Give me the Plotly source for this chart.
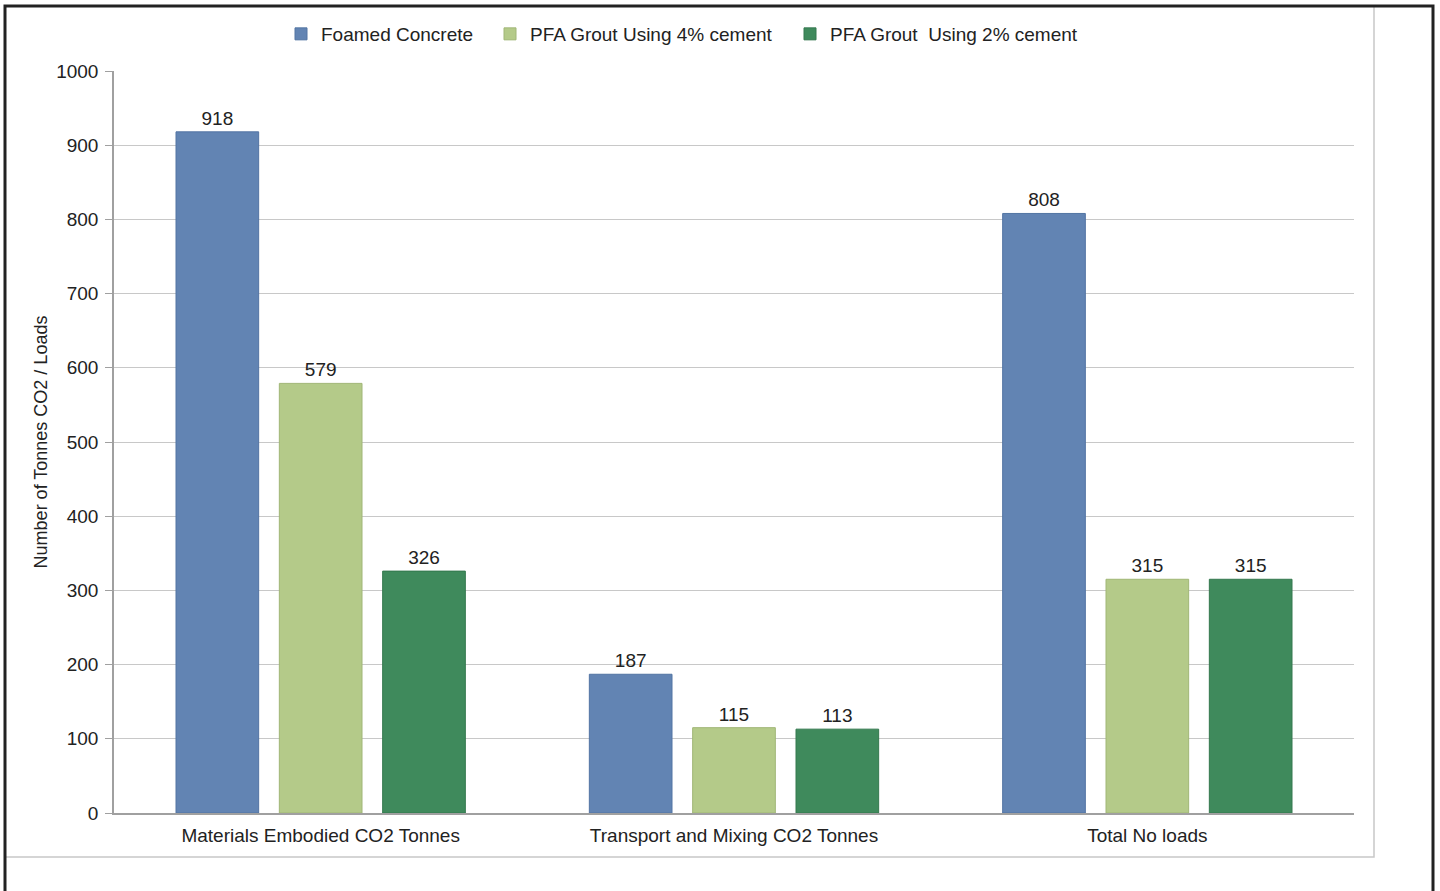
import plotly.graph_objects as go

categories = ["Materials Embodied CO2 Tonnes", "Transport and Mixing CO2 Tonnes", "Total No loads"]
series_names = ["Foamed Concrete", "PFA Grout Using 4% cement", "PFA Grout  Using 2% cement"]
foamed = [918, 187, 808]
pfa4 = [579, 115, 315]
pfa2 = [326, 113, 315]
y_ticks = [0, 100, 200, 300, 400, 500, 600, 700, 800, 900, 1000]

colors = ["#6284b3", "#b4ca89", "#3f8a5c"]
edges = ["#5274a3", "#a0b676", "#34784e"]
legend_text_x = [321, 530, 830]

W, H = 1440, 891
L, R, T, B = 114, 1354, 71, 813


def px(x):
    return (x - L) / (R - L)


def py(y):
    return (B - y) / (B - T)


fig = go.Figure()
legend_ids = ["legend", "legend2", "legend3"]
for i, (name, vals, c, e) in enumerate(zip(series_names, [foamed, pfa4, pfa2], colors, edges)):
    fig.add_trace(go.Bar(
        x=categories, y=vals, name=name, legend=legend_ids[i],
        marker=dict(color=c, line=dict(color=e, width=1)),
        text=[str(v) for v in vals], textposition="outside",
        textfont=dict(size=19, color="#222222"), cliponaxis=False,
    ))

shapes = [
    dict(type="rect", xref="paper", yref="paper", x0=px(5), x1=px(1374), y0=py(857), y1=py(6),
         line=dict(color="#c8c8c8", width=1.5)),
    dict(type="rect", xref="paper", yref="paper", x0=px(5), x1=px(1433), y0=py(960), y1=py(6),
         line=dict(color="#222222", width=3)),
]

legend_common = dict(orientation="h", yanchor="middle", font=dict(size=19, color="#222222"),
                     itemwidth=30, bgcolor="rgba(0,0,0,0)")
legends = {}
for i, lid in enumerate(legend_ids):
    legends[lid] = dict(legend_common, x=px(legend_text_x[i] - 40), xanchor="left", y=py(34))

fig.update_layout(
    width=W, height=H,
    margin=dict(l=L, r=W - R, t=T, b=H - B, autoexpand=False),
    paper_bgcolor="white", plot_bgcolor="white",
    font=dict(family="Liberation Sans, Arial, sans-serif", size=19, color="#222222"),
    barmode="group", bargap=0.25, bargroupgap=0.2,
    showlegend=True,
    shapes=shapes,
    xaxis=dict(showline=True, linecolor="#a0a0a0", linewidth=1.5, ticks="", showgrid=False,
               tickfont=dict(size=19, color="#222222"), ticklabelstandoff=4),
    yaxis=dict(range=[0, 1000], tickvals=y_ticks, showgrid=True, gridcolor="#c8c8c8", gridwidth=1.3,
               showline=True, linecolor="#a0a0a0", linewidth=1.5, ticks="outside", ticklen=7,
               tickcolor="#a0a0a0", zeroline=False, tickfont=dict(size=19, color="#222222"),
               ticklabelstandoff=3,
               title=dict(text="Number of Tonnes CO2 / Loads", font=dict(size=18, color="#222222"),
                          standoff=4)),
    **legends,
)

fig.write_html("out.html", config={"displayModeBar": False},
               post_script="document.body.style.margin='0';document.body.style.padding='0';")
